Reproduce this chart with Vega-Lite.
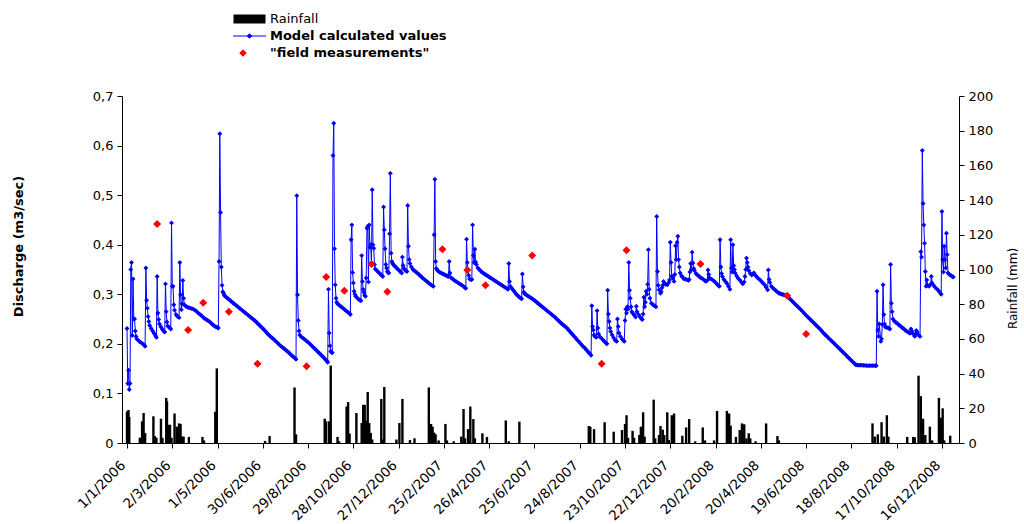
{
  "$schema": "https://vega.github.io/schema/vega-lite/v6.json",
  "width": 837,
  "height": 347,
  "autosize": {"type": "none"},
  "padding": {"left": 122, "top": 96, "right": 65, "bottom": 81},
  "background": "white",
  "config": {
    "font": "DejaVu Sans",
    "view": {"stroke": null},
    "axis": {"grid": false, "domainColor": "black", "tickColor": "black", "labelColor": "black", "titleColor": "black", "labelFont": "DejaVu Sans", "titleFont": "DejaVu Sans", "labelFontSize": 13, "tickSize": 5, "domainWidth": 1, "tickWidth": 1},
    "legend": {"labelFont": "DejaVu Sans", "labelFontSize": 13, "labelColor": "black", "labelLimit": 400, "orient": "none", "direction": "vertical", "symbolSize": 100, "labelOffset": 14, "rowPadding": 0, "title": null}
  },
  "datasets": {
    "rain": [
      {"day":0,"mm":18},{"day":1,"mm":18.5},{"day":2,"mm":19},{"day":3,"mm":15},
      {"day":17,"mm":3},{"day":18,"mm":3},{"day":20,"mm":12.5},{"day":22,"mm":17.3},{"day":24,"mm":5.8},
      {"day":35,"mm":15.4},{"day":37,"mm":4},{"day":39,"mm":3},
      {"day":45,"mm":14},{"day":47,"mm":3},
      {"day":52,"mm":26},{"day":53,"mm":24},{"day":55,"mm":10.5},{"day":57,"mm":10.5},{"day":59,"mm":3},
      {"day":63,"mm":17},{"day":66,"mm":9.4},{"day":69,"mm":11.3},{"day":71,"mm":11},{"day":73,"mm":3.7},{"day":75,"mm":3.7},
      {"day":82,"mm":3.5},{"day":100,"mm":3.5},{"day":102,"mm":1.5},
      {"day":117,"mm":18},{"day":119,"mm":43},
      {"day":183,"mm":1.2},{"day":189,"mm":4},
      {"day":222,"mm":32},{"day":224,"mm":5},
      {"day":262,"mm":14},{"day":264,"mm":12.5},{"day":268,"mm":12.5},{"day":270,"mm":44.6},
      {"day":279,"mm":3.5},{"day":281,"mm":1},
      {"day":291,"mm":21},{"day":293,"mm":23.6},{"day":295,"mm":5.4},
      {"day":304,"mm":17.3},
      {"day":311,"mm":11.5},{"day":313,"mm":22},{"day":315,"mm":22},{"day":317,"mm":13},{"day":319,"mm":29.4},{"day":321,"mm":11.5},{"day":323,"mm":5.8},{"day":325,"mm":2},
      {"day":337,"mm":25.4},{"day":339,"mm":2},{"day":341,"mm":32.3},
      {"day":357,"mm":2},{"day":361,"mm":11.5},{"day":365,"mm":25.4},
      {"day":375,"mm":1.7},{"day":381,"mm":2.7},
      {"day":400,"mm":32},{"day":403,"mm":11},{"day":405,"mm":9.4},{"day":407,"mm":6},{"day":409,"mm":5},{"day":413,"mm":1.5},
      {"day":422,"mm":11},{"day":424,"mm":1.5},{"day":433,"mm":1},
      {"day":443,"mm":3.7},{"day":446,"mm":19.6},{"day":448,"mm":2.7},
      {"day":452,"mm":8},{"day":455,"mm":21},{"day":459,"mm":13.8},{"day":461,"mm":2.7},
      {"day":471,"mm":5.6},{"day":477,"mm":3.5},
      {"day":502,"mm":13},{"day":506,"mm":1},{"day":520,"mm":12.3},
      {"day":612,"mm":9.8},{"day":614,"mm":9.4},{"day":619,"mm":8},
      {"day":633,"mm":12},{"day":645,"mm":6.5},
      {"day":656,"mm":7.5},{"day":660,"mm":11},{"day":662,"mm":16},{"day":664,"mm":3},
      {"day":670,"mm":7},{"day":672,"mm":3},
      {"day":679,"mm":4.6},{"day":681,"mm":9.4},{"day":684,"mm":17.7},{"day":686,"mm":3.7},
      {"day":698,"mm":25},{"day":700,"mm":2.7},{"day":705,"mm":4.6},{"day":707,"mm":9.8},{"day":710,"mm":7.7},{"day":712,"mm":4.6},
      {"day":716,"mm":17.7},{"day":718,"mm":1.7},
      {"day":722,"mm":16},{"day":725,"mm":17},
      {"day":736,"mm":4.2},{"day":741,"mm":9},{"day":745,"mm":13.8},{"day":753,"mm":1},{"day":763,"mm":9},{"day":766,"mm":1.5},{"day":778,"mm":1.5},{"day":782,"mm":18.5},
      {"day":795,"mm":18.5},{"day":798,"mm":17},{"day":800,"mm":10},
      {"day":807,"mm":3.5},{"day":812,"mm":7.5},{"day":815,"mm":11.3},{"day":818,"mm":10.8},{"day":821,"mm":2.7},{"day":824,"mm":5.6},{"day":826,"mm":2.7},{"day":833,"mm":1},{"day":847,"mm":11.3},{"day":862,"mm":4},{"day":864,"mm":1.5},
      {"day":988,"mm":11.3},{"day":991,"mm":3.7},{"day":995,"mm":5},{"day":1000,"mm":12},{"day":1003,"mm":3.7},{"day":1007,"mm":16},{"day":1009,"mm":3.7},
      {"day":1034,"mm":3.5},{"day":1042,"mm":3.5},{"day":1044,"mm":3.3},
      {"day":1049,"mm":38.8},{"day":1052,"mm":27},{"day":1055,"mm":14},{"day":1058,"mm":4.6},
      {"day":1064,"mm":9.4},{"day":1067,"mm":1.5},
      {"day":1076,"mm":26},{"day":1079,"mm":14.6},{"day":1081,"mm":20},{"day":1083,"mm":1.5},{"day":1091,"mm":4.2}
    ],
    "model": [
      {"day":0,"q":0.231},{"day":1,"q":0.120},{"day":2,"q":0.147},{"day":3,"q":0.108},{"day":4,"q":0.120},{"day":5,"q":0.350},{"day":6,"q":0.364},{"day":7,"q":0.217},{"day":8,"q":0.331},{"day":9,"q":0.250},{"day":10,"q":0.250},{"day":11,"q":0.226},{"day":12,"q":0.215},{"day":13,"q":0.210},{"day":15,"q":0.207},{"day":17,"q":0.204},{"day":19,"q":0.202},{"day":21,"q":0.200},{"day":23,"q":0.197},{"day":24,"q":0.195},
      {"day":25,"q":0.353},{"day":26,"q":0.288},{"day":27,"q":0.272},{"day":28,"q":0.255},{"day":29,"q":0.245},{"day":30,"q":0.237},{"day":32,"q":0.231},{"day":34,"q":0.226},{"day":36,"q":0.221},{"day":38,"q":0.216},{"day":39,"q":0.213},
      {"day":40,"q":0.336},{"day":41,"q":0.262},{"day":42,"q":0.249},{"day":43,"q":0.240},{"day":45,"q":0.234},{"day":47,"q":0.229},{"day":49,"q":0.225},{"day":50,"q":0.224},
      {"day":51,"q":0.321},{"day":52,"q":0.265},{"day":53,"q":0.244},{"day":54,"q":0.236},{"day":56,"q":0.233},{"day":58,"q":0.230},
      {"day":59,"q":0.444},{"day":60,"q":0.316},{"day":61,"q":0.316},{"day":62,"q":0.279},{"day":63,"q":0.268},{"day":65,"q":0.259},{"day":67,"q":0.255},{"day":69,"q":0.253},
      {"day":70,"q":0.364},{"day":71,"q":0.299},{"day":72,"q":0.269},{"day":73,"q":0.281},{"day":74,"q":0.328},{"day":75,"q":0.292},{"day":76,"q":0.279},{"day":78,"q":0.276},
      {"day":80,"q":0.274},{"day":82,"q":0.273},{"day":84,"q":0.272},{"day":86,"q":0.271},{"day":88,"q":0.270},{"day":90,"q":0.268},{"day":92,"q":0.266},{"day":94,"q":0.263},{"day":96,"q":0.260},{"day":98,"q":0.258},{"day":100,"q":0.255},{"day":102,"q":0.252},{"day":104,"q":0.250},{"day":106,"q":0.248},{"day":108,"q":0.246},{"day":110,"q":0.244},{"day":112,"q":0.241},{"day":114,"q":0.238},{"day":116,"q":0.236},{"day":118,"q":0.234},{"day":120,"q":0.233},{"day":121,"q":0.232},
      {"day":122,"q":0.366},{"day":123,"q":0.624},{"day":124,"q":0.465},{"day":125,"q":0.355},{"day":126,"q":0.318},{"day":127,"q":0.305},{"day":128,"q":0.302},{"day":129,"q":0.298},{"day":130,"q":0.296},
      {"day":132,"q":0.2935},{"day":134,"q":0.291},{"day":136,"q":0.2885},{"day":138,"q":0.286},{"day":140,"q":0.2835},{"day":142,"q":0.281},{"day":144,"q":0.2785},{"day":146,"q":0.276},{"day":148,"q":0.2735},{"day":150,"q":0.271},{"day":152,"q":0.2685},{"day":154,"q":0.266},{"day":156,"q":0.2635},{"day":158,"q":0.261},{"day":160,"q":0.2585},{"day":162,"q":0.256},{"day":164,"q":0.2535},{"day":166,"q":0.251},{"day":168,"q":0.2485},{"day":170,"q":0.246},{"day":172,"q":0.243},{"day":174,"q":0.240},{"day":176,"q":0.237},{"day":178,"q":0.234},{"day":180,"q":0.231},{"day":182,"q":0.228},{"day":184,"q":0.2245},{"day":186,"q":0.221},{"day":188,"q":0.218},{"day":190,"q":0.215},{"day":192,"q":0.2125},{"day":194,"q":0.210},{"day":196,"q":0.207},{"day":198,"q":0.204},{"day":200,"q":0.201},{"day":202,"q":0.198},{"day":204,"q":0.1955},{"day":206,"q":0.193},{"day":208,"q":0.1905},{"day":210,"q":0.188},{"day":212,"q":0.1855},{"day":214,"q":0.183},{"day":216,"q":0.180},{"day":218,"q":0.177},{"day":220,"q":0.1745},{"day":222,"q":0.172},{"day":224,"q":0.169},
      {"day":225,"q":0.499},{"day":226,"q":0.299},{"day":227,"q":0.247},{"day":228,"q":0.226},{"day":229,"q":0.218},{"day":231,"q":0.214},{"day":233,"q":0.212},{"day":235,"q":0.2095},{"day":237,"q":0.207},{"day":239,"q":0.2045},{"day":241,"q":0.202},{"day":243,"q":0.199},{"day":245,"q":0.196},{"day":247,"q":0.193},{"day":249,"q":0.190},{"day":251,"q":0.187},{"day":253,"q":0.184},{"day":255,"q":0.181},{"day":257,"q":0.178},{"day":259,"q":0.175},{"day":261,"q":0.172},{"day":263,"q":0.1685},{"day":265,"q":0.165},{"day":266,"q":0.163},
      {"day":267,"q":0.310},{"day":268,"q":0.222},{"day":269,"q":0.196},{"day":270,"q":0.185},{"day":271,"q":0.183},{"day":272,"q":0.182},{"day":273,"q":0.580},{"day":274,"q":0.645},{"day":275,"q":0.392},{"day":276,"q":0.319},{"day":277,"q":0.292},{"day":278,"q":0.284},{"day":279,"q":0.281},
      {"day":281,"q":0.2785},{"day":283,"q":0.276},{"day":285,"q":0.2735},{"day":287,"q":0.271},{"day":289,"q":0.2685},{"day":291,"q":0.266},{"day":293,"q":0.2635},{"day":295,"q":0.261},{"day":296,"q":0.259},
      {"day":297,"q":0.410},{"day":298,"q":0.440},{"day":299,"q":0.344},{"day":300,"q":0.323},{"day":301,"q":0.306},{"day":302,"q":0.300},{"day":303,"q":0.296},{"day":305,"q":0.293},{"day":307,"q":0.290},{"day":309,"q":0.288},{"day":310,"q":0.287},
      {"day":311,"q":0.378},{"day":312,"q":0.326},{"day":313,"q":0.310},{"day":314,"q":0.304},{"day":315,"q":0.298},{"day":316,"q":0.296},
      {"day":317,"q":0.333},{"day":318,"q":0.433},{"day":319,"q":0.437},{"day":320,"q":0.325},{"day":321,"q":0.440},{"day":322,"q":0.395},{"day":323,"q":0.400},{"day":324,"q":0.361},{"day":325,"q":0.511},{"day":326,"q":0.400},{"day":327,"q":0.393},{"day":328,"q":0.360},{"day":329,"q":0.351},{"day":331,"q":0.348},{"day":333,"q":0.345},{"day":335,"q":0.342},{"day":337,"q":0.339},{"day":339,"q":0.336},
      {"day":340,"q":0.476},{"day":341,"q":0.430},{"day":342,"q":0.392},{"day":343,"q":0.360},{"day":344,"q":0.353},{"day":345,"q":0.346},{"day":346,"q":0.344},{"day":347,"q":0.343},{"day":348,"q":0.422},{"day":349,"q":0.544},{"day":350,"q":0.383},{"day":351,"q":0.366},{"day":352,"q":0.362},{"day":353,"q":0.360},{"day":354,"q":0.358},{"day":356,"q":0.355},{"day":358,"q":0.352},{"day":360,"q":0.349},{"day":362,"q":0.346},{"day":364,"q":0.343},
      {"day":365,"q":0.375},{"day":366,"q":0.358},{"day":367,"q":0.352},{"day":369,"q":0.348},{"day":371,"q":0.346},{"day":372,"q":0.479},{"day":373,"q":0.397},{"day":374,"q":0.370},{"day":375,"q":0.362},{"day":377,"q":0.355},{"day":379,"q":0.350},
      {"day":381,"q":0.3475},{"day":383,"q":0.345},{"day":385,"q":0.3425},{"day":387,"q":0.340},{"day":389,"q":0.337},{"day":391,"q":0.334},{"day":393,"q":0.3315},{"day":395,"q":0.329},{"day":397,"q":0.3265},{"day":399,"q":0.324},{"day":401,"q":0.3215},{"day":403,"q":0.319},{"day":405,"q":0.317},{"day":406,"q":0.316},
      {"day":407,"q":0.420},{"day":408,"q":0.532},{"day":409,"q":0.366},{"day":410,"q":0.352},{"day":411,"q":0.349},{"day":413,"q":0.346},{"day":415,"q":0.344},{"day":417,"q":0.3425},{"day":419,"q":0.341},{"day":421,"q":0.3395},{"day":423,"q":0.338},{"day":425,"q":0.3365},{"day":426,"q":0.336},
      {"day":427,"q":0.366},{"day":428,"q":0.343},{"day":430,"q":0.333},{"day":432,"q":0.3305},{"day":434,"q":0.328},{"day":436,"q":0.326},{"day":438,"q":0.324},{"day":440,"q":0.322},{"day":442,"q":0.320},{"day":444,"q":0.318},{"day":446,"q":0.316},{"day":448,"q":0.313},{"day":449,"q":0.312},
      {"day":450,"q":0.411},{"day":451,"q":0.364},{"day":452,"q":0.349},{"day":453,"q":0.338},{"day":454,"q":0.331},{"day":456,"q":0.329},{"day":457,"q":0.330},{"day":458,"q":0.440},{"day":459,"q":0.378},{"day":460,"q":0.364},{"day":461,"q":0.391},{"day":462,"q":0.365},{"day":463,"q":0.360},{"day":465,"q":0.353},{"day":467,"q":0.350},{"day":469,"q":0.3465},{"day":471,"q":0.344},
      {"day":473,"q":0.342},{"day":475,"q":0.340},{"day":477,"q":0.338},{"day":479,"q":0.336},{"day":481,"q":0.334},{"day":483,"q":0.332},{"day":485,"q":0.330},{"day":487,"q":0.328},{"day":489,"q":0.326},{"day":491,"q":0.324},{"day":493,"q":0.322},{"day":495,"q":0.320},{"day":497,"q":0.318},{"day":499,"q":0.316},{"day":501,"q":0.314},{"day":503,"q":0.312},{"day":505,"q":0.310},
      {"day":506,"q":0.362},{"day":507,"q":0.326},{"day":508,"q":0.316},{"day":510,"q":0.312},{"day":512,"q":0.308},{"day":514,"q":0.304},{"day":516,"q":0.300},{"day":518,"q":0.297},{"day":520,"q":0.294},{"day":522,"q":0.292},{"day":523,"q":0.291},
      {"day":524,"q":0.341},{"day":525,"q":0.315},{"day":526,"q":0.304},{"day":527,"q":0.301},{"day":529,"q":0.299},{"day":531,"q":0.297},{"day":533,"q":0.295},{"day":535,"q":0.293},{"day":537,"q":0.291},{"day":539,"q":0.289},{"day":541,"q":0.2865},{"day":543,"q":0.284},{"day":545,"q":0.2815},{"day":547,"q":0.279},{"day":549,"q":0.2765},{"day":551,"q":0.274},{"day":553,"q":0.2715},{"day":555,"q":0.269},{"day":557,"q":0.2665},{"day":559,"q":0.264},{"day":561,"q":0.2615},{"day":563,"q":0.259},{"day":565,"q":0.2565},{"day":567,"q":0.254},{"day":569,"q":0.251},{"day":571,"q":0.248},{"day":573,"q":0.245},{"day":575,"q":0.242},{"day":577,"q":0.2395},{"day":579,"q":0.237},{"day":581,"q":0.2345},{"day":583,"q":0.232},{"day":585,"q":0.2285},{"day":587,"q":0.225},{"day":589,"q":0.2215},{"day":591,"q":0.218},{"day":593,"q":0.2145},{"day":595,"q":0.211},{"day":597,"q":0.2075},{"day":599,"q":0.204},{"day":601,"q":0.2005},{"day":603,"q":0.197},{"day":605,"q":0.194},{"day":607,"q":0.191},{"day":609,"q":0.1875},{"day":611,"q":0.184},{"day":613,"q":0.1805},{"day":615,"q":0.177},
      {"day":616,"q":0.277},{"day":617,"q":0.235},{"day":618,"q":0.228},{"day":619,"q":0.218},{"day":620,"q":0.215},{"day":622,"q":0.213},{"day":623,"q":0.267},{"day":624,"q":0.232},{"day":625,"q":0.220},{"day":627,"q":0.214},{"day":629,"q":0.211},{"day":631,"q":0.2075},{"day":633,"q":0.2045},{"day":635,"q":0.201},{"day":636,"q":0.200},
      {"day":637,"q":0.308},{"day":638,"q":0.260},{"day":639,"q":0.245},{"day":640,"q":0.232},{"day":641,"q":0.225},{"day":643,"q":0.218},{"day":645,"q":0.212},{"day":647,"q":0.207},{"day":649,"q":0.205},
      {"day":650,"q":0.250},{"day":651,"q":0.235},{"day":652,"q":0.222},{"day":654,"q":0.215},{"day":656,"q":0.210},{"day":658,"q":0.207},{"day":659,"q":0.205},
      {"day":660,"q":0.247},{"day":661,"q":0.270},{"day":662,"q":0.262},{"day":663,"q":0.275},{"day":664,"q":0.270},{"day":665,"q":0.364},{"day":666,"q":0.308},{"day":667,"q":0.292},{"day":668,"q":0.275},{"day":669,"q":0.265},{"day":670,"q":0.262},{"day":672,"q":0.258},{"day":674,"q":0.254},{"day":675,"q":0.276},{"day":676,"q":0.265},{"day":678,"q":0.259},{"day":680,"q":0.254},{"day":682,"q":0.250},{"day":683,"q":0.249},
      {"day":684,"q":0.260},{"day":685,"q":0.294},{"day":686,"q":0.275},{"day":687,"q":0.284},{"day":688,"q":0.306},{"day":689,"q":0.300},{"day":690,"q":0.320},{"day":691,"q":0.390},{"day":692,"q":0.310},{"day":693,"q":0.292},{"day":695,"q":0.282},{"day":697,"q":0.279},{"day":699,"q":0.277},{"day":701,"q":0.275},
      {"day":702,"q":0.457},{"day":703,"q":0.346},{"day":704,"q":0.318},{"day":705,"q":0.309},{"day":707,"q":0.302},{"day":708,"q":0.305},{"day":709,"q":0.313},{"day":710,"q":0.318},{"day":711,"q":0.326},{"day":712,"q":0.322},{"day":714,"q":0.320},{"day":716,"q":0.319},{"day":718,"q":0.324},{"day":719,"q":0.329},
      {"day":720,"q":0.405},{"day":721,"q":0.364},{"day":722,"q":0.337},{"day":723,"q":0.333},{"day":725,"q":0.326},{"day":726,"q":0.340},{"day":727,"q":0.398},{"day":728,"q":0.370},{"day":729,"q":0.405},{"day":730,"q":0.417},{"day":731,"q":0.370},{"day":732,"q":0.355},{"day":733,"q":0.343},{"day":735,"q":0.337},{"day":736,"q":0.335},{"day":738,"q":0.331},{"day":740,"q":0.3305},{"day":742,"q":0.3295},{"day":744,"q":0.328},{"day":745,"q":0.330},{"day":746,"q":0.345},{"day":747,"q":0.362},{"day":748,"q":0.350},{"day":749,"q":0.385},{"day":750,"q":0.363},{"day":751,"q":0.352},{"day":752,"q":0.348},{"day":754,"q":0.342},{"day":756,"q":0.339},{"day":758,"q":0.3365},{"day":760,"q":0.334},{"day":762,"q":0.332},{"day":764,"q":0.330},{"day":766,"q":0.3275},{"day":767,"q":0.326},{"day":769,"q":0.328},{"day":770,"q":0.349},{"day":771,"q":0.340},{"day":772,"q":0.333},
      {"day":774,"q":0.331},{"day":776,"q":0.329},{"day":778,"q":0.3265},{"day":780,"q":0.324},{"day":782,"q":0.320},{"day":784,"q":0.317},{"day":785,"q":0.316},{"day":786,"q":0.410},{"day":787,"q":0.355},{"day":788,"q":0.342},{"day":789,"q":0.336},{"day":791,"q":0.330},{"day":793,"q":0.326},{"day":795,"q":0.322},{"day":797,"q":0.316},{"day":799,"q":0.310},
      {"day":800,"q":0.410},{"day":801,"q":0.353},{"day":802,"q":0.345},{"day":803,"q":0.400},{"day":804,"q":0.358},{"day":805,"q":0.350},{"day":806,"q":0.343},{"day":808,"q":0.337},{"day":810,"q":0.332},{"day":812,"q":0.329},{"day":814,"q":0.325},{"day":816,"q":0.321},{"day":818,"q":0.325},{"day":819,"q":0.336},{"day":820,"q":0.350},{"day":821,"q":0.373},{"day":822,"q":0.364},{"day":823,"q":0.355},{"day":824,"q":0.348},{"day":826,"q":0.342},{"day":828,"q":0.339},{"day":830,"q":0.342},{"day":831,"q":0.343},{"day":833,"q":0.338},{"day":835,"q":0.3345},{"day":837,"q":0.3315},{"day":839,"q":0.329},{"day":841,"q":0.3255},{"day":843,"q":0.3225},{"day":845,"q":0.319},{"day":847,"q":0.314},{"day":849,"q":0.309},
      {"day":850,"q":0.349},{"day":851,"q":0.330},{"day":852,"q":0.324},{"day":854,"q":0.316},{"day":856,"q":0.3125},{"day":858,"q":0.310},{"day":860,"q":0.307},{"day":862,"q":0.3045},{"day":864,"q":0.302},{"day":866,"q":0.301},{"day":868,"q":0.300},{"day":870,"q":0.299},{"day":872,"q":0.298},{"day":874,"q":0.297},{"day":875,"q":0.296},
      {"day":877,"q":0.293},{"day":879,"q":0.290},{"day":881,"q":0.287},{"day":883,"q":0.284},{"day":885,"q":0.281},{"day":887,"q":0.278},{"day":889,"q":0.275},{"day":891,"q":0.272},{"day":893,"q":0.269},{"day":895,"q":0.266},{"day":897,"q":0.2625},{"day":899,"q":0.259},{"day":901,"q":0.256},{"day":903,"q":0.253},{"day":905,"q":0.250},{"day":907,"q":0.247},{"day":909,"q":0.244},{"day":911,"q":0.241},{"day":913,"q":0.238},{"day":915,"q":0.235},{"day":917,"q":0.232},{"day":919,"q":0.229},{"day":921,"q":0.2255},{"day":923,"q":0.222},{"day":925,"q":0.219},{"day":927,"q":0.216},{"day":929,"q":0.213},{"day":931,"q":0.210},{"day":933,"q":0.207},{"day":935,"q":0.204},{"day":937,"q":0.201},{"day":939,"q":0.198},{"day":941,"q":0.195},{"day":943,"q":0.192},{"day":945,"q":0.189},{"day":947,"q":0.186},{"day":949,"q":0.183},{"day":951,"q":0.180},{"day":953,"q":0.177},{"day":955,"q":0.174},{"day":957,"q":0.171},{"day":959,"q":0.168},{"day":961,"q":0.165},{"day":963,"q":0.162},{"day":965,"q":0.159},{"day":966,"q":0.158},
      {"day":968,"q":0.157},{"day":970,"q":0.157},{"day":972,"q":0.157},{"day":974,"q":0.157},{"day":976,"q":0.1565},{"day":978,"q":0.1565},{"day":980,"q":0.156},{"day":982,"q":0.156},{"day":984,"q":0.156},{"day":986,"q":0.156},{"day":988,"q":0.156},{"day":990,"q":0.156},{"day":992,"q":0.156},{"day":993,"q":0.156},
      {"day":994,"q":0.306},{"day":995,"q":0.228},{"day":996,"q":0.215},{"day":997,"q":0.240},{"day":999,"q":0.205},{"day":1000,"q":0.210},{"day":1001,"q":0.239},{"day":1002,"q":0.319},{"day":1003,"q":0.259},{"day":1004,"q":0.240},{"day":1005,"q":0.234},{"day":1007,"q":0.233},{"day":1009,"q":0.232},{"day":1011,"q":0.230},{"day":1012,"q":0.360},{"day":1013,"q":0.282},{"day":1014,"q":0.265},{"day":1015,"q":0.250},{"day":1017,"q":0.246},{"day":1019,"q":0.243},{"day":1021,"q":0.241},{"day":1023,"q":0.238},{"day":1025,"q":0.236},{"day":1027,"q":0.233},{"day":1029,"q":0.231},{"day":1031,"q":0.228},{"day":1033,"q":0.226},{"day":1035,"q":0.224},{"day":1037,"q":0.222},{"day":1038,"q":0.222},
      {"day":1039,"q":0.230},{"day":1040,"q":0.226},{"day":1042,"q":0.220},{"day":1044,"q":0.215},{"day":1045,"q":0.220},{"day":1046,"q":0.227},{"day":1047,"q":0.224},{"day":1049,"q":0.218},{"day":1051,"q":0.215},
      {"day":1052,"q":0.386},{"day":1053,"q":0.375},{"day":1054,"q":0.590},{"day":1055,"q":0.483},{"day":1056,"q":0.440},{"day":1057,"q":0.403},{"day":1058,"q":0.346},{"day":1059,"q":0.316},{"day":1060,"q":0.329},{"day":1061,"q":0.318},{"day":1063,"q":0.316},{"day":1065,"q":0.320},{"day":1066,"q":0.336},{"day":1067,"q":0.323},{"day":1069,"q":0.318},{"day":1071,"q":0.314},{"day":1073,"q":0.311},{"day":1075,"q":0.308},{"day":1077,"q":0.304},{"day":1079,"q":0.300},
      {"day":1080,"q":0.467},{"day":1081,"q":0.370},{"day":1082,"q":0.345},{"day":1083,"q":0.397},{"day":1084,"q":0.370},{"day":1085,"q":0.353},{"day":1086,"q":0.423},{"day":1087,"q":0.380},{"day":1088,"q":0.343},{"day":1090,"q":0.340},{"day":1092,"q":0.338},{"day":1094,"q":0.336},{"day":1095,"q":0.335}
    ],
    "field": [
      {"day":40,"q":0.442},{"day":81,"q":0.228},{"day":101,"q":0.283},{"day":135,"q":0.265},{"day":173,"q":0.160},{"day":238,"q":0.155},{"day":264,"q":0.335},{"day":288,"q":0.307},{"day":324,"q":0.361},{"day":345,"q":0.305},{"day":418,"q":0.391},{"day":451,"q":0.349},{"day":475,"q":0.318},{"day":537,"q":0.378},{"day":629,"q":0.160},{"day":662,"q":0.389},{"day":760,"q":0.361},{"day":875,"q":0.297},{"day":900,"q":0.220}
    ]
  },
  "encoding": {
    "x": {
      "field": "day",
      "type": "quantitative",
      "scale": {"domain": [0, 1096], "nice": false, "zero": false},
      "axis": {
        "title": null,
        "values": [0, 60, 120, 180, 240, 300, 360, 420, 480, 540, 600, 660, 720, 780, 840, 900, 960, 1020, 1080],
        "labelExpr": "timeFormat(datetime(2006, 0, 1 + datum.value), '%-d/%-m/%Y')",
        "labelAngle": -45,
        "labelOverlap": false,
        "labelBound": false,
        "labelFlush": false,
        "labelPadding": 10,
        "labelOffset": -9,
        "labelFontSize": 13.5
      }
    }
  },
  "layer": [
    {
      "data": {"name": "rain"},
      "mark": {"type": "bar", "orient": "vertical", "size": 2.4, "opacity": 1},
      "encoding": {
        "y": {
          "field": "mm",
          "type": "quantitative",
          "scale": {"domain": [0, 200], "nice": false},
          "axis": {
            "orient": "right",
            "values": [0, 20, 40, 60, 80, 100, 120, 140, 160, 180, 200],
            "title": "Rainfall (mm)",
            "titleFontSize": 12,
            "titleFontWeight": "normal",
            "titleAngle": -90,
            "titleX": 53,
            "titleY": 192,
            "titleAlign": "center",
            "titleBaseline": "middle",
            "labelPadding": 4
          }
        },
        "color": {
          "datum": "Rainfall",
          "type": "nominal",
          "scale": {"domain": ["Rainfall"], "range": ["#000000"]},
          "legend": {
            "legendX": 121,
            "legendY": -83.5,
            "symbolType": "M-3.2,-0.9H3.2V0.9H-3.2Z",
            "symbolFillColor": "#000000",
            "symbolStrokeWidth": 0,
            "labelFontWeight": "normal"
          }
        }
      }
    },
    {
      "layer": [
        {
          "data": {"name": "model"},
          "mark": {"type": "line", "strokeWidth": 1, "point": {"shape": "diamond", "size": 24, "filled": true, "opacity": 1}},
          "encoding": {
            "y": {
              "field": "q",
              "type": "quantitative",
              "scale": {"domain": [0, 0.7], "nice": false},
              "axis": {
                "orient": "left",
                "values": [0, 0.1, 0.2, 0.3, 0.4, 0.5, 0.6, 0.7],
                "labelExpr": "datum.value == 0 ? '0' : replace(format(datum.value, '.1f'), '.', ',')",
                "title": "Discharge (m3/sec)",
                "titleFontSize": 13,
                "titleFontWeight": "bold",
                "titleAngle": -90,
                "titleX": -104,
                "titleY": 150,
                "titleAlign": "center",
                "titleBaseline": "middle",
                "labelPadding": 4
              }
            },
            "color": {
              "datum": "Model calculated values",
              "type": "nominal",
              "scale": {"domain": ["Model calculated values"], "range": ["#0000FF"]},
              "legend": {
                "legendX": 121,
                "legendY": -66.5,
                "symbolType": "M-3.3,0H3.3M-0.45,0L0,-0.45L0.45,0L0,0.45Z",
                "symbolFillColor": "#0000FF",
                "symbolStrokeColor": "#0000FF",
                "symbolStrokeWidth": 1,
                "labelFontWeight": "bold"
              }
            }
          }
        },
        {
          "data": {"name": "field"},
          "mark": {"type": "point", "shape": "diamond", "size": 64, "filled": true, "opacity": 1},
          "encoding": {
            "y": {"field": "q", "type": "quantitative"},
            "color": {
              "datum": "\"field measurements\"",
              "type": "nominal",
              "scale": {"domain": ["\"field measurements\""], "range": ["#FF0000"]},
              "legend": {
                "legendX": 121,
                "legendY": -49.5,
                "symbolType": "diamond",
                "symbolSize": 56,
                "symbolOffset": -6.5,
                "labelOffset": 20.5,
                "symbolFillColor": "#FF0000",
                "symbolStrokeWidth": 0,
                "labelFontWeight": "bold"
              }
            }
          }
        }
      ],
      "resolve": {"scale": {"color": "independent"}, "legend": {"color": "independent"}}
    }
  ],
  "resolve": {"scale": {"y": "independent", "color": "independent"}, "legend": {"color": "independent"}}
}
